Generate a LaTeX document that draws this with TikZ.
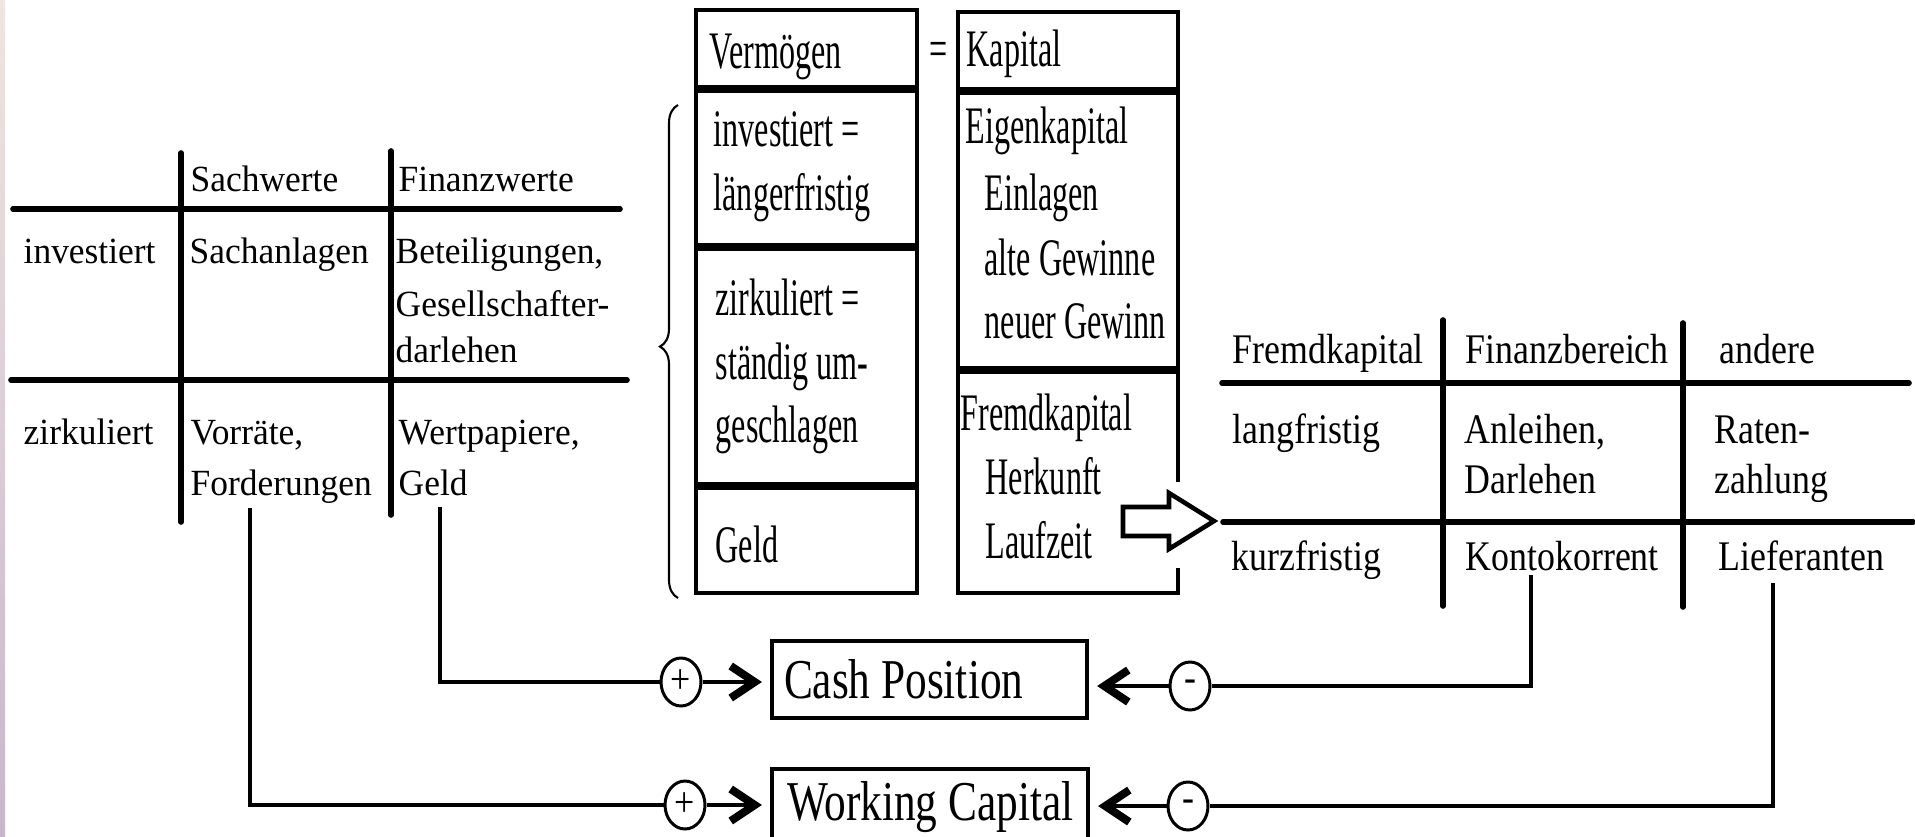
\documentclass[tikz,border=0pt]{standalone}
\usepackage{fontspec}
\setmainfont{Liberation Serif}
\newfontfamily\tabfont{Liberation Serif}[FakeStretch=0.96]
\newfontfamily\fkfont{Liberation Serif}[FakeStretch=0.85]
\newfontfamily\colfont{Liberation Serif}[FakeStretch=0.61]
\newfontfamily\boxfont{Liberation Serif}[FakeStretch=0.77]
\usetikzlibrary{arrows.meta,shapes.geometric,decorations.pathreplacing}
\definecolor{striptop}{RGB}{240,229,224}
\definecolor{stripmid}{RGB}{218,198,190}
\definecolor{stripbot}{RGB}{200,182,204}

\begin{document}
\begin{tikzpicture}[x=0.1mm,y=-0.1mm,
  txt/.style={anchor=base west,inner sep=0pt,font=\tabfont\fontsize{10.5}{12.6}\selectfont},
  rtxt/.style={anchor=base west,inner sep=0pt,font=\fkfont\fontsize{12}{14.4}\selectfont},
  ctxt/.style={anchor=base west,inner sep=0pt,font=\colfont\fontsize{15}{18}\selectfont},
  grid/.style={line width=1.6pt,line cap=round},
  frame/.style={line width=1.3pt},
  sepline/.style={line width=2pt},
  conn/.style={line width=0.95pt},
  sign/.style={ellipse,draw,line width=0.85pt,minimum width=4mm,minimum height=4.8mm,inner sep=0pt,font=\fkfont\fontsize{12}{12}\selectfont},
  result/.style={draw,line width=1.2pt,inner ysep=0pt,font=\boxfont\fontsize{16}{19}\selectfont},
  into/.style={line width=0.95pt,shorten >=0.8mm,-{Straight Barb[length=2.4mm,width=3.2mm,line width=0.8mm]}}]
\useasboundingbox (0,0) rectangle (1915,836);
\shade[top color=striptop,middle color=stripmid,bottom color=stripbot] (0,0) rectangle (5,836);
\draw[grid] (13,209) -- (620,209);
\draw[grid] (11,380) -- (627,380);
\draw[grid] (181,153) -- (181,522);
\draw[grid] (391,151) -- (391,515);
\node[txt] (sachw) at (190,191) {Sachwerte};
\node[txt] (finanzw) at (398,191) {Finanzwerte};
\node[txt] (invest) at (23,263) {investiert};
\node[txt] (sachanl) at (189,263) {Sachanlagen};
\node[txt] (beteil) at (395,263) {Beteiligungen,};
\node[txt] (gesell) at (395,316) {Gesellschafter-};
\node[txt] (darl) at (395,362) {darlehen};
\node[txt] (zirk) at (23,444) {zirkuliert};
\node[txt] (vorr) at (190,444) {Vorräte,};
\node[txt] (forder) at (190,495) {Forderungen};
\node[txt] (wertp) at (398,444) {Wertpapiere,};
\node[txt] (geld) at (398,495) {Geld};
\draw[decorate,decoration={brace,amplitude=1.8mm,aspect=0.51},line width=0.6pt] (678,598) -- (678,105);
\draw[frame] (696,10) rectangle (917,593);
\draw[sepline] (696,89) -- (917,89);
\draw[sepline] (696,247) -- (917,247);
\draw[sepline] (696,486) -- (917,486);
\node[ctxt] (verm) at (709,68) {Vermögen};
\node[ctxt] (eq) at (929,66) {=};
\node[ctxt] (invl1) at (713,146) {investiert =};
\node[ctxt] (invl2) at (713,210) {längerfristig};
\node[ctxt] (zirk1) at (715,315) {zirkuliert =};
\node[ctxt] (zirk2) at (715,379) {ständig um-};
\node[ctxt] (zirk3) at (715,442) {geschlagen};
\node[ctxt] (vgeld) at (715,562) {Geld};
\draw[frame] (1178,482) -- (1178,12) -- (958,12) -- (958,593) -- (1178,593) -- (1178,568);
\draw[sepline] (958,91) -- (1178,91);
\draw[sepline] (958,370) -- (1178,370);
\node[ctxt] (kap) at (966,66) {Kapital};
\node[ctxt] (eigen) at (965,143) {Eigenkapital};
\node[ctxt] (einl) at (984,210) {Einlagen};
\node[ctxt] (altg) at (984,275) {alte Gewinne};
\node[ctxt] (neug) at (984,338) {neuer Gewinn};
\node[ctxt] (fremd) at (960,430) {Fremdkapital};
\node[ctxt] (herk) at (985,494) {Herkunft};
\node[ctxt] (laufz) at (985,558) {Laufzeit};
\draw[frame,fill=white] (1123,507) -- (1169,507) -- (1169,493) -- (1214,521) -- (1169,549) -- (1169,536) -- (1123,536) -- cycle;
\draw[grid] (1222,383) -- (1909,383);
\draw[grid] (1223,522) -- (1913,522);
\draw[grid] (1443,320) -- (1443,606);
\draw[grid] (1683,323) -- (1683,607);
\node[rtxt] (fkap) at (1232,363) {Fremdkapital};
\node[rtxt] (finb) at (1465,363) {Finanzbereich};
\node[rtxt] (andere) at (1719,363) {andere};
\node[rtxt] (langf) at (1232,443) {langfristig};
\node[rtxt] (anl) at (1464,443) {Anleihen,};
\node[rtxt] (darlr) at (1464,493) {Darlehen};
\node[rtxt] (raten) at (1714,443) {Raten-};
\node[rtxt] (zahl) at (1714,493) {zahlung};
\node[rtxt] (kurzf) at (1231,570) {kurzfristig};
\node[rtxt] (kontok) at (1465,570) {Kontokorrent};
\node[rtxt] (liefer) at (1718,570) {Lieferanten};
\node[result,text width=29.1mm,inner xsep=1.2mm,minimum height=7.7mm] (cash) at (929.5,679.5) {\spaceskip=0pt\mbox{Cash Position}};
\node[result,text width=28.6mm,inner xsep=1.5mm,minimum height=7.6mm] (wcap) at (930,807) {\spaceskip=0pt\mbox{Working Capital}};
\node[sign] (cplus) at (681,682) {+};
\node[sign] (cminus) at (1190,686) {-};
\node[sign] (wplus) at (685,805) {+};
\node[sign] (wminus) at (1188,806) {-};
\coordinate (geldout) at (440,507);
\coordinate (fordout) at (250,508);
\coordinate (kontout) at (1531,575);
\coordinate (liefout) at (1773,583);
\draw[conn] (geldout) |- (cplus);
\draw[conn] (fordout) |- (wplus);
\draw[conn] (kontout) |- (cminus);
\draw[conn] (liefout) |- (wminus);
\draw[into] (cplus) -- (cplus -| cash.west);
\draw[into] (wplus) -- (wplus -| wcap.west);
\draw[into] (cminus) -- (cminus -| cash.east);
\draw[into] (wminus) -- (wminus -| wcap.east);
\end{tikzpicture}
\end{document}
